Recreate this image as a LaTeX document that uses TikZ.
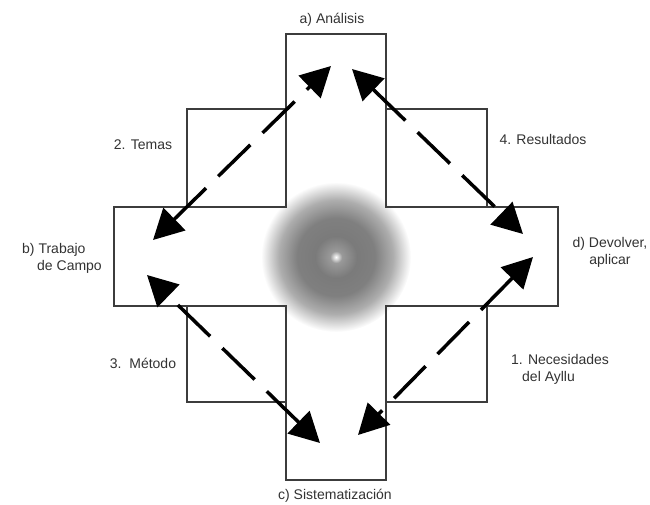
\documentclass[tikz,border=0pt]{standalone}
\usepackage{fontspec}
\setmainfont{Liberation Sans}
\usepackage{tikz}
\usetikzlibrary{positioning, arrows.meta}
\definecolor{framegray}{RGB}{60,60,60}
\definecolor{textgray}{RGB}{50,50,50}
\pgfdeclareradialshading{blob}{\pgfpointorigin}{color(0bp)=(white); color(2bp)=(black!40); color(7bp)=(black!52); color(13bp)=(black!50); color(19bp)=(black!32); color(25bp)=(white); color(50bp)=(white)}

\begin{document}
\begin{tikzpicture}[x=1pt, y=-1pt,
    frame/.style={draw=framegray, line width=1.8pt},
    lbl/.style={text=textgray, inner sep=0pt, font=\fontsize{14}{17}\selectfont},
    dasharrow/.style={{Triangle[length=30pt,width=31pt]}-{Triangle[length=30pt,width=31pt]}, line width=3.5pt, dash pattern=on 45pt off 17pt}]
    \useasboundingbox (0,0) rectangle (650,504);

    % Centre
    \shade[shading=blob] (336,257) circle (75pt);

    % Cross
    \draw[frame] (286,207) |- (386,34) -- (386,207);
    \draw[frame] (286,306) |- (386,480) -- (386,306);
    \draw[frame] (286,207) -| (114,306) -- (286,306);
    \draw[frame] (386,207) -| (558,306) -- (386,306);
    \draw[frame] (187,109) rectangle (286,207);
    \draw[frame] (386,109) rectangle (487,207);
    \draw[frame] (187,306) rectangle (286,402);
    \draw[frame] (386,306) rectangle (487,402);

    % Nodes
    \node[lbl] (analisis) at (332,20) {a) Análisis};
    \node[lbl, anchor=west, align=left] (trabajo) at (22,258) {b) Trabajo\\\hspace*{15pt}de Campo};
    \node[lbl] (sistem) at (335,496) {c) Sistematización};
    \node[lbl, align=center] (devolver) at (610,252) {d) Devolver,\\aplicar};
    \node[lbl, anchor=west, align=left] (necesidades) at (511,369) {1. Necesidades\\\hspace*{11pt}del Ayllu};
    \node[lbl] (temas) at (143,145) {2. Temas};
    \node[lbl] (metodo) at (143,363) {3.\ \ Método};
    \node[lbl] (resultados) at (543,139) {4. Resultados};

    \coordinate (a-w) at (331,66);
    \coordinate (a-e) at (352,69);
    \coordinate (b-n) at (153,240);
    \coordinate (b-s) at (147,275);
    \coordinate (d-n) at (523,234);
    \coordinate (d-s) at (533,257);
    \coordinate (c-w) at (320,443);
    \coordinate (c-e) at (358,435);

    % Edges
    \draw[dasharrow] (b-n) -- (a-w);
    \draw[dasharrow] (a-e) -- (d-n);
    \draw[dasharrow] (d-s) -- (c-e);
    \draw[dasharrow] (c-w) -- (b-s);
\end{tikzpicture}
\end{document}
